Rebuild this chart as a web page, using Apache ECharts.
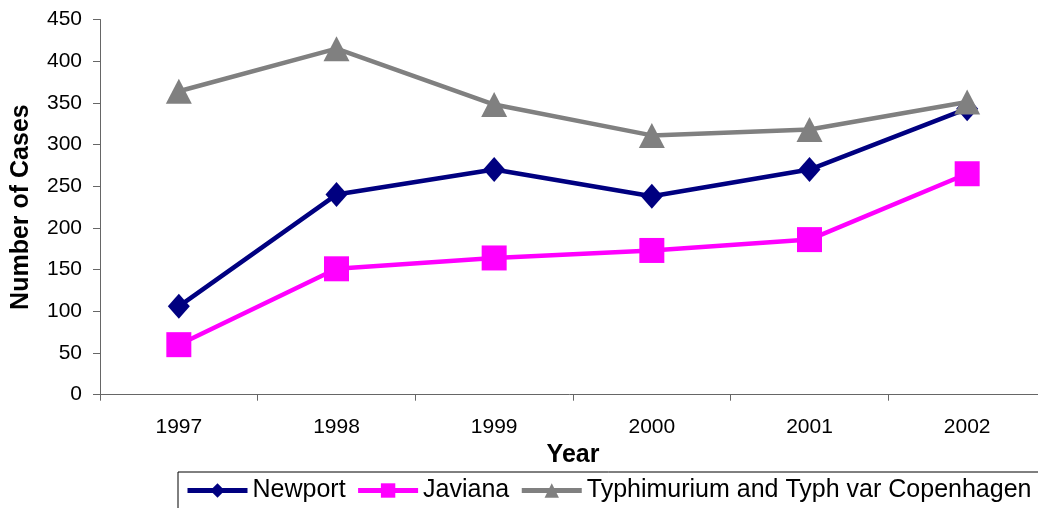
<!DOCTYPE html>
<html>
<head>
<meta charset="utf-8">
<script src="https://cdn.jsdelivr.net/npm/echarts@6/dist/echarts.min.js"></script>
<style>
  html, body { margin: 0; padding: 0; background: #fff; }
  #chart { width: 1038px; height: 508px; }
</style>
</head>
<body>
<div id="chart"></div>
<script>
// Reported cases by serotype, 1997-2002
const years = ['1997', '1998', '1999', '2000', '2001', '2002'];
const newport = [106, 240, 270, 238, 270, 343];
const javiana = [60, 151, 164, 173, 186, 265];
const typhimurium = [364, 415, 348, 311, 318, 351];

const FONT = "'Liberation Sans', Arial, sans-serif";

function lineSeries(name, data, color, symbol, size) {
  return {
    name: name,
    type: 'line',
    data: data,
    symbol: symbol,
    symbolSize: size,
    showAllSymbol: true,
    lineStyle: { color: color, width: 4.5 },
    itemStyle: { color: color, borderColor: color, borderWidth: 0 },
    emphasis: { disabled: true },
    animation: false
  };
}

const chart = echarts.init(document.getElementById('chart'), null, { renderer: 'canvas' });
chart.setOption({
  backgroundColor: '#ffffff',
  animation: false,
  textStyle: { fontFamily: FONT, color: '#000' },
  // plot area runs a little past the right edge of the canvas
  grid: {
    left: 100, width: 946, top: 19.5, height: 375.2,
    containLabel: false, outerBoundsMode: 'none'
  },
  legend: {
    left: 178,
    top: 472,
    width: 880,
    padding: [6, 24, 12, 7],
    borderColor: '#000',
    borderWidth: 1,
    itemWidth: 60,
    itemHeight: 18,
    itemGap: 10,
    lineStyle: { width: 5 },
    textStyle: { fontFamily: FONT, fontSize: 25, color: '#000' },
    data: ['Newport', 'Javiana', 'Typhimurium and Typh var Copenhagen']
  },
  xAxis: {
    type: 'category',
    data: years,
    boundaryGap: true,
    name: 'Year',
    nameLocation: 'middle',
    nameGap: 38,
    nameTextStyle: { fontFamily: FONT, fontSize: 25, fontWeight: 'bold', color: '#000' },
    axisLine: { lineStyle: { color: '#666', width: 1 } },
    axisTick: { show: true, length: 6, alignWithLabel: false, lineStyle: { color: '#666' } },
    axisLabel: { fontFamily: FONT, fontSize: 21, color: '#000', margin: 22 },
    splitLine: { show: false }
  },
  yAxis: {
    type: 'value',
    min: 0,
    max: 450,
    interval: 50,
    name: 'Number of Cases',
    nameLocation: 'middle',
    nameGap: 66,
    nameRotate: 90,
    nameTextStyle: { fontFamily: FONT, fontSize: 25, fontWeight: 'bold', color: '#000' },
    axisLine: { show: true, lineStyle: { color: '#666', width: 1 } },
    axisTick: { show: true, length: 7, lineStyle: { color: '#666' } },
    axisLabel: { fontFamily: FONT, fontSize: 21, color: '#000', margin: 18 },
    splitLine: { show: false }
  },
  series: [
    lineSeries('Newport', newport, '#000080', 'diamond', [22, 25]),
    lineSeries('Javiana', javiana, '#ff00ff', 'rect', 25),
    lineSeries('Typhimurium and Typh var Copenhagen', typhimurium, '#808080', 'triangle', [26, 25])
  ]
});
</script>
</body>
</html>
